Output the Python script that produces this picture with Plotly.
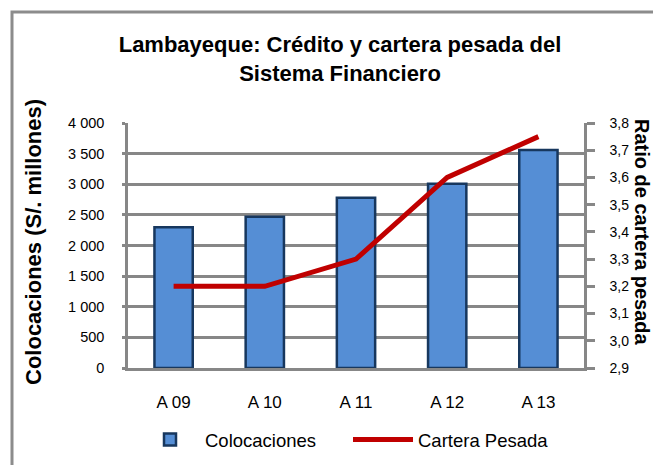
import plotly.graph_objects as go

categories = ["A 09", "A 10", "A 11", "A 12", "A 13"]
colocaciones = [2300, 2470, 2780, 3010, 3560]
cartera_pesada = [3.2, 3.2, 3.3, 3.6, 3.75]

left_ticks = [0, 500, 1000, 1500, 2000, 2500, 3000, 3500, 4000]
right_ticks = [2.9, 3.0, 3.1, 3.2, 3.3, 3.4, 3.5, 3.6, 3.7, 3.8]

GRID = "#878787"
FONT = "Liberation Sans, Arial, sans-serif"

W, H = 653, 465
L, R, T, B = 128, 69, 123, 97
pw, ph = W - L - R, H - T - B

def px_x(x):
    return (x - L) / pw

def px_y(y):
    return (H - B - y) / ph

fig = go.Figure()
fig.add_trace(go.Bar(
    x=categories, y=colocaciones, name="Colocaciones",
    marker=dict(color="#558ED5", line=dict(color="#17375E", width=2.5)),
    width=0.42,
))
fig.add_trace(go.Scatter(
    x=categories, y=cartera_pesada, name="Cartera Pesada", yaxis="y2",
    mode="lines", line=dict(color="#C00000", width=5),
))

fig.update_layout(
    width=W, height=H,
    margin=dict(l=L, r=R, t=T, b=B, autoexpand=False),
    paper_bgcolor="white", plot_bgcolor="white",
    separators=", ",
    font=dict(family=FONT, color="black"),
    showlegend=True,
    title=dict(
        text="<b>Lambayeque: Crédito y cartera pesada del<br>Sistema Financiero</b>",
        x=340 / W, xanchor="center", xref="container",
        y=1 - 52 / H, yanchor="middle", yref="container",
        font=dict(size=22, family=FONT, color="black"),
    ),
    xaxis=dict(
        type="category", showgrid=False, showline=True, linecolor=GRID, linewidth=2.5,
        ticks="", tickfont=dict(size=17, family=FONT), ticklabelstandoff=17,
        range=[-0.5, 4.5],
    ),
    yaxis=dict(
        range=[0, 4000], tickvals=left_ticks, tickformat=",d",
        showgrid=True, gridcolor=GRID, gridwidth=2.5,
        showline=True, linecolor=GRID, linewidth=2.5,
        ticks="outside", ticklen=3, tickcolor=GRID, tickwidth=2.5,
        tickfont=dict(size=14.5, family=FONT), ticklabelstandoff=15,
        zeroline=False,
    ),
    yaxis2=dict(
        overlaying="y", side="right", range=[2.9, 3.8], tickvals=right_ticks,
        tickformat=".1f", showgrid=False, zeroline=False,
        showline=True, linecolor=GRID, linewidth=2.5,
        ticks="outside", ticklen=8, tickcolor=GRID, tickwidth=2.5,
        tickfont=dict(size=14, family=FONT), ticklabelstandoff=12,
    ),
    legend=dict(
        orientation="h", x=px_x(348), xanchor="center", y=px_y(440), yanchor="middle",
        font=dict(size=18.5, family=FONT), itemwidth=60,
        entrywidth=138, entrywidthmode="pixels", bgcolor="rgba(0,0,0,0)",
    ),
    annotations=[
        dict(text="<b>Colocaciones (S/. millones)</b>", textangle=-90,
             x=px_x(33), y=px_y(242), xref="paper", yref="paper",
             xanchor="center", yanchor="middle", showarrow=False,
             font=dict(size=22, family=FONT, color="black")),
        dict(text="<b>Ratio de cartera pesada</b>", textangle=90,
             x=px_x(642), y=px_y(232), xref="paper", yref="paper",
             xanchor="center", yanchor="middle", showarrow=False,
             font=dict(size=20, family=FONT, color="black")),
    ],
    shapes=[
        dict(type="rect", xref="paper", yref="paper",
             x0=px_x(12), y0=px_y(480), x1=px_x(680), y1=px_y(12),
             line=dict(color="#8C8C8C", width=3), fillcolor="rgba(0,0,0,0)", layer="below"),
    ],
)

fig.write_html("out.html")
